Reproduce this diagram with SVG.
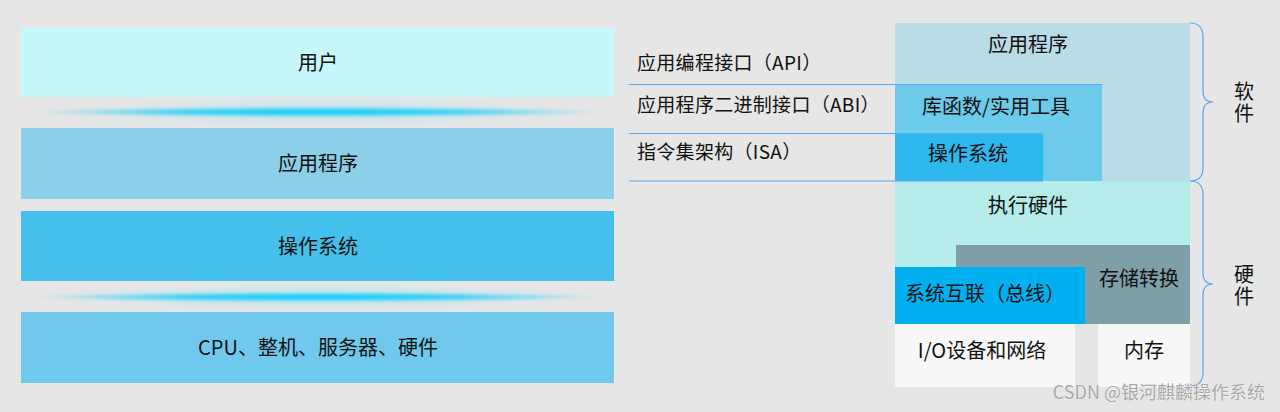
<svg xmlns="http://www.w3.org/2000/svg" width="1280" height="412" viewBox="0 0 1280 412">
<defs>
<radialGradient id="glowWide" cx="0.5" cy="0.5" r="0.5">
<stop offset="0" stop-color="#8fe2f6" stop-opacity="0.85"/>
<stop offset="0.6" stop-color="#c4e6ee" stop-opacity="0.45"/>
<stop offset="1" stop-color="#e6e6e6" stop-opacity="0"/>
</radialGradient>
<radialGradient id="glowCore" cx="0.5" cy="0.5" r="0.5">
<stop offset="0" stop-color="#00ccff" stop-opacity="1"/>
<stop offset="0.5" stop-color="#10cbf8" stop-opacity="0.8"/>
<stop offset="1" stop-color="#10cbf8" stop-opacity="0"/>
</radialGradient>
<filter id="soft" x="-10%" y="-200%" width="120%" height="500%"><feGaussianBlur stdDeviation="1.6"/></filter>
</defs>
<style>
text{font-family:"Noto Sans CJK SC","Liberation Sans",sans-serif;fill:#111;}
.t20{font-size:20px;text-anchor:middle;}
.t19{font-size:19px;letter-spacing:0.3px;}
.vert{font-size:20px;writing-mode:vertical-rl;letter-spacing:2px;}
.line{stroke:#5ea5f2;stroke-width:1.2;fill:none;}
.wm{font-size:18px;fill:#a8a8a8;text-anchor:end;stroke:#fafafa;stroke-width:0.6;paint-order:stroke;}
</style>
<rect width="1280" height="412" fill="#e6e6e6"/>

<!-- left stack -->
<g id="user"><rect x="21" y="27" width="593" height="70" fill="#c6f7fb"/><text class="t20" x="318" y="70">用户</text></g>
<g id="glow1"><ellipse cx="318" cy="112" rx="297" ry="16" fill="url(#glowWide)"/><ellipse cx="318" cy="112" rx="285" ry="4.5" fill="url(#glowCore)" filter="url(#soft)"/></g>
<g id="app-left"><rect x="21" y="128" width="593" height="71" fill="#8bcfe9"/><text class="t20" x="318" y="171">应用程序</text></g>
<g id="os-left"><rect x="21" y="211" width="593" height="70" fill="#45c0ed"/><text class="t20" x="318" y="254">操作系统</text></g>
<g id="glow2"><ellipse cx="318" cy="297" rx="297" ry="16" fill="url(#glowWide)"/><ellipse cx="318" cy="297" rx="285" ry="4.5" fill="url(#glowCore)" filter="url(#soft)"/></g>
<g id="hw-left"><rect x="21" y="312" width="593" height="71" fill="#70c9ec"/><text class="t20" x="318" y="355">CPU、整机、服务器、硬件</text></g>

<!-- right stack -->
<g id="app-right"><rect x="895" y="23" width="295" height="158" fill="#b9dce7"/><text class="t20" x="1028" y="52">应用程序</text></g>
<g id="lib"><rect x="895" y="84" width="207" height="97" fill="#6ccbea"/><text class="t20" x="996" y="114">库函数/实用工具</text></g>
<g id="os-right"><rect x="895" y="133" width="148" height="48" fill="#2db8ee"/><text class="t20" x="968" y="161">操作系统</text></g>
<g id="exec-hw"><rect x="895" y="181" width="295" height="86" fill="#b5ebe9"/><text class="t20" x="1028" y="213">执行硬件</text></g>
<g id="mem-trans"><rect x="956" y="245" width="234" height="79" fill="#7e9ea8"/><text class="t20" x="1139" y="286">存储转换</text></g>
<g id="bus"><rect x="895" y="267" width="190" height="57" fill="#00b0f0"/><text class="t20" x="985" y="301">系统互联（总线）</text></g>
<g id="io"><rect x="895" y="324" width="180" height="63" fill="#f8f8f8"/><text class="t20" x="982" y="358">I/O设备和网络</text></g>
<g id="mem"><rect x="1098" y="324" width="92" height="63" fill="#f8f8f8"/><text class="t20" x="1144" y="358">内存</text></g>

<!-- interface labels -->
<g id="api"><text class="t19" x="637" y="70">应用编程接口（API）</text></g>
<g id="abi"><text class="t19" x="637" y="112">应用程序二进制接口（ABI）</text></g>
<g id="isa"><text class="t19" x="637" y="159">指令集架构（ISA）</text></g>

<g id="software-label"><text class="vert" x="1244" y="81">软件</text></g>
<g id="hardware-label"><text class="vert" x="1244" y="264">硬件</text></g>

<!-- connectors -->
<g id="connectors">
<line class="line" x1="629" y1="84.5" x2="1102" y2="84.5"/>
<line class="line" x1="629" y1="133.5" x2="1043" y2="133.5"/>
<line class="line" x1="629" y1="181" x2="1043" y2="181"/>
<path class="line" d="M1190 23 Q1203 23 1203 37 L1203 91 Q1203 102 1213 102 Q1203 102 1203 113 L1203 168 Q1203 181 1190 181"/>
<path class="line" d="M1190 181 Q1203 181 1203 195 L1203 273 Q1203 284 1213 284 Q1203 284 1203 295 L1203 372 Q1203 386 1190 386"/>
</g>

<g id="watermark"><text class="wm" x="1265" y="399">CSDN @银河麒麟操作系统</text></g>
</svg>
